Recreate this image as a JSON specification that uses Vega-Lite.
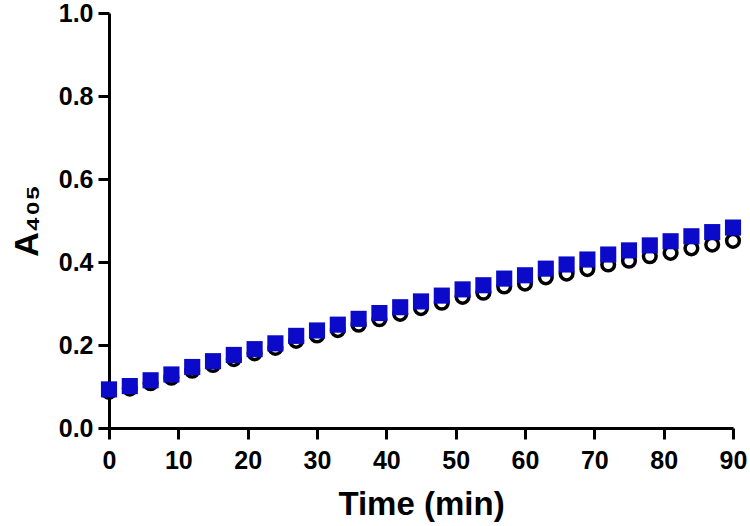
{
  "$schema": "https://vega.github.io/schema/vega-lite/v6.json",
  "width": 624,
  "height": 415,
  "autosize": "none",
  "padding": {"left": 109, "top": 13, "right": 17, "bottom": 98},
  "background": "white",
  "config": {
    "view": {"stroke": null},
    "axis": {
      "grid": false,
      "domainColor": "black",
      "domainWidth": 3,
      "tickColor": "black",
      "tickWidth": 3,
      "tickSize": 11,
      "labelFont": "Liberation Sans",
      "labelFontWeight": "bold",
      "labelFontSize": 25,
      "labelColor": "black",
      "titleFont": "Liberation Sans",
      "titleFontWeight": "bold",
      "titleFontSize": 33,
      "titleColor": "black"
    }
  },
  "data": {
    "values": [
      {"t": 0, "a": 0.087, "s": "black"}, {"t": 3, "a": 0.095, "s": "black"}, {"t": 6, "a": 0.108, "s": "black"},
      {"t": 9, "a": 0.121, "s": "black"}, {"t": 12, "a": 0.138, "s": "black"}, {"t": 15, "a": 0.152, "s": "black"},
      {"t": 18, "a": 0.166, "s": "black"}, {"t": 21, "a": 0.180, "s": "black"}, {"t": 24, "a": 0.193, "s": "black"},
      {"t": 27, "a": 0.210, "s": "black"}, {"t": 30, "a": 0.223, "s": "black"}, {"t": 33, "a": 0.236, "s": "black"},
      {"t": 36, "a": 0.249, "s": "black"}, {"t": 39, "a": 0.262, "s": "black"}, {"t": 42, "a": 0.275, "s": "black"},
      {"t": 45, "a": 0.289, "s": "black"}, {"t": 48, "a": 0.302, "s": "black"}, {"t": 51, "a": 0.316, "s": "black"},
      {"t": 54, "a": 0.326, "s": "black"}, {"t": 57, "a": 0.341, "s": "black"}, {"t": 60, "a": 0.348, "s": "black"},
      {"t": 63, "a": 0.363, "s": "black"}, {"t": 66, "a": 0.372, "s": "black"}, {"t": 69, "a": 0.383, "s": "black"},
      {"t": 72, "a": 0.394, "s": "black"}, {"t": 75, "a": 0.403, "s": "black"}, {"t": 78, "a": 0.414, "s": "black"},
      {"t": 81, "a": 0.422, "s": "black"}, {"t": 84, "a": 0.433, "s": "black"}, {"t": 87, "a": 0.442, "s": "black"},
      {"t": 90, "a": 0.451, "s": "black"},
      {"t": 0, "a": 0.093, "s": "blue"}, {"t": 3, "a": 0.101, "s": "blue"}, {"t": 6, "a": 0.115, "s": "blue"},
      {"t": 9, "a": 0.129, "s": "blue"}, {"t": 12, "a": 0.147, "s": "blue"}, {"t": 15, "a": 0.161, "s": "blue"},
      {"t": 18, "a": 0.176, "s": "blue"}, {"t": 21, "a": 0.190, "s": "blue"}, {"t": 24, "a": 0.204, "s": "blue"},
      {"t": 27, "a": 0.222, "s": "blue"}, {"t": 30, "a": 0.235, "s": "blue"}, {"t": 33, "a": 0.249, "s": "blue"},
      {"t": 36, "a": 0.263, "s": "blue"}, {"t": 39, "a": 0.277, "s": "blue"}, {"t": 42, "a": 0.291, "s": "blue"},
      {"t": 45, "a": 0.305, "s": "blue"}, {"t": 48, "a": 0.319, "s": "blue"}, {"t": 51, "a": 0.334, "s": "blue"},
      {"t": 54, "a": 0.344, "s": "blue"}, {"t": 57, "a": 0.360, "s": "blue"}, {"t": 60, "a": 0.368, "s": "blue"},
      {"t": 63, "a": 0.384, "s": "blue"}, {"t": 66, "a": 0.394, "s": "blue"}, {"t": 69, "a": 0.406, "s": "blue"},
      {"t": 72, "a": 0.418, "s": "blue"}, {"t": 75, "a": 0.428, "s": "blue"}, {"t": 78, "a": 0.440, "s": "blue"},
      {"t": 81, "a": 0.450, "s": "blue"}, {"t": 84, "a": 0.462, "s": "blue"}, {"t": 87, "a": 0.472, "s": "blue"},
      {"t": 90, "a": 0.483, "s": "blue"}
    ]
  },
  "encoding": {
    "x": {
      "field": "t", "type": "quantitative",
      "scale": {"domain": [0, 90], "nice": false, "zero": false},
      "axis": {"values": [0, 10, 20, 30, 40, 50, 60, 70, 80, 90], "title": "Time (min)", "labelPadding": 9, "titlePadding": 15, "labelFlush": false}
    },
    "y": {
      "field": "a", "type": "quantitative",
      "scale": {"domain": [0, 1], "nice": false},
      "axis": {"values": [0, 0.2, 0.4, 0.6, 0.8, 1.0], "format": ".1f", "title": "A₄₀₅", "titleFontSize": 34, "labelPadding": 5, "titlePadding": 14, "labelFlush": false}
    }
  },
  "layer": [
    {
      "transform": [{"filter": "datum.s === 'black'"}],
      "mark": {"type": "point", "shape": "circle", "filled": false, "stroke": "black", "strokeWidth": 3.5, "size": 160, "opacity": 1}
    },
    {
      "transform": [{"filter": "datum.s === 'blue'"}],
      "mark": {"type": "point", "shape": "square", "filled": true, "fill": "#0a0ac8", "size": 260, "opacity": 1}
    }
  ]
}
